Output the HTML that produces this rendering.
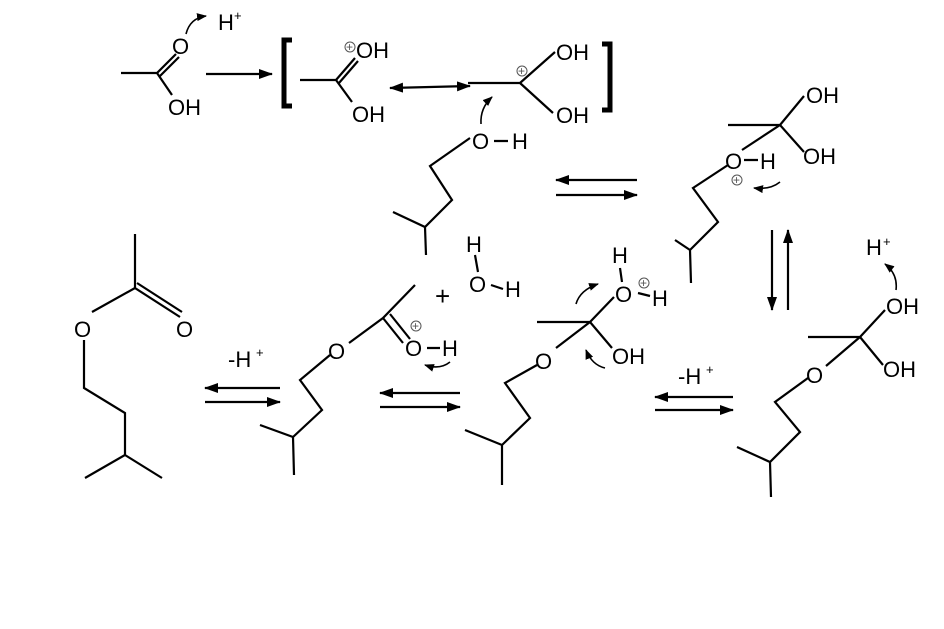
<!DOCTYPE html>
<html><head><style>
html,body{margin:0;padding:0;background:#fff;}
svg{display:block;}
text{font-family:"Liberation Sans",sans-serif;font-size:22px;fill:#000;}
.s{font-size:13px;}
.p{font-size:12px;fill:#555;}
</style></head><body>
<svg width="944" height="629" viewBox="0 0 944 629" xmlns="http://www.w3.org/2000/svg">
<defs>
<marker id="a" markerWidth="10" markerHeight="8" refX="9" refY="4" orient="auto" markerUnits="userSpaceOnUse"><path d="M0,0 L10,4 L0,8 z" fill="#000"/></marker>
<marker id="b" markerWidth="14" markerHeight="10" refX="13" refY="5" orient="auto-start-reverse" markerUnits="userSpaceOnUse"><path d="M0,0 L14,5 L0,10 z" fill="#000"/></marker>
</defs>
<g stroke="#000" stroke-width="2.2" fill="none">
<path d="M121,73 L157,73 L176,54 M160,76 L179,57 M157,73 L172,95"/>
<path d="M186,34 Q190,18 206,16" marker-end="url(#a)" stroke-width="1.6"/>
<path d="M206,74 L272,74" marker-end="url(#b)"/>
<path d="M292,40 L284,40 L284,106 L292,106" stroke-width="5"/>
<path d="M602,44 L610,44 L610,110 L602,110" stroke-width="5"/>
<path d="M300,80 L336,80 L355,58 M339,83 L358,61 M336,80 L352,102"/>
<path d="M390,88 L470,86" marker-end="url(#b)" marker-start="url(#b)"/>
<path d="M468,83 L520,83 L555,52 M520,83 L553,113"/>
<path d="M481,124 Q480,108 492,97" marker-end="url(#a)" stroke-width="1.6"/>
<path d="M470,138 L430,166 L452,200 L425,227 L393,212 M425,227 L426,255 M494,141 L508,141"/>
<path d="M637,180 L556,180" marker-end="url(#b)"/>
<path d="M556,195 L637,195" marker-end="url(#b)"/>
<path d="M728,125 L780,125 L804,96 M780,125 L804,152 M780,125 L742,150 M744,160 L758,160"/>
<path d="M728,165 L693,188 L718,222 L690,250 L675,240 M690,250 L691,283"/>
<path d="M780,182 Q770,190 754,188" marker-end="url(#a)" stroke-width="1.6"/>
<path d="M772,230 L772,310" marker-end="url(#b)"/>
<path d="M788,310 L788,230" marker-end="url(#b)"/>
<path d="M808,337 L860,337 L885,310 M860,337 L883,365 M860,337 L826,366"/>
<path d="M808,378 L775,402 L800,432 L770,462 L737,447 M770,462 L771,497"/>
<path d="M896,290 Q898,274 885,264" marker-end="url(#a)" stroke-width="1.6"/>
<path d="M733,397 L655,397" marker-end="url(#b)"/>
<path d="M655,410 L733,410" marker-end="url(#b)"/>
<path d="M135,234 L135,288 L180,317 M137,283 L182,312 M135,288 L92,312 M84,340 L84,388 L125,413 L125,455 L85,478 M125,455 L162,478"/>
<path d="M280,388 L205,388" marker-end="url(#b)"/>
<path d="M205,402 L280,402" marker-end="url(#b)"/>
<path d="M415,285 L383,318 L349,343 M383,318 L403,343 M390,314 L410,339 M427,348 L440,348"/>
<path d="M330,355 L300,380 L322,410 L293,437 L260,425 M293,437 L294,475"/>
<path d="M450,362 Q440,370 425,365" marker-end="url(#a)" stroke-width="1.6"/>
<path d="M460,393 L380,393" marker-end="url(#b)"/>
<path d="M380,407 L460,407" marker-end="url(#b)"/>
<path d="M475,255 L478,272 M491,285 L503,289"/>
<path d="M537,322 L590,322 L614,297 M590,322 L612,348 M590,322 L556,348 M620,268 L622,282 M638,293 L650,296"/>
<path d="M537,365 L505,383 L530,418 L502,445 L465,430 M502,445 L502,485"/>
<path d="M576,304 Q580,290 598,284" marker-end="url(#a)" stroke-width="1.6"/>
<path d="M605,368 Q592,365 586,350" marker-end="url(#a)" stroke-width="1.6"/>
</g>
<text x="172" y="54">O</text>
<text x="218" y="30">H</text><text x="234" y="20" class="s">+</text>
<text x="168" y="115">OH</text>
<text x="356" y="58">OH</text>
<circle cx="350" cy="47" r="5" fill="none" stroke="#555" stroke-width="1"/><text x="346" y="51" class="p">+</text>
<text x="352" y="122">OH</text>
<text x="556" y="60">OH</text>
<text x="556" y="123">OH</text>
<circle cx="522" cy="71" r="5" fill="none" stroke="#555" stroke-width="1"/><text x="518" y="75" class="p">+</text>
<text x="472" y="149">O</text><text x="512" y="149">H</text>
<text x="806" y="103">OH</text>
<text x="803" y="164">OH</text>
<text x="725" y="169">O</text><text x="760" y="169">H</text>
<circle cx="737" cy="180" r="5" fill="none" stroke="#555" stroke-width="1"/><text x="733" y="184" class="p">+</text>
<text x="866" y="255">H</text><text x="883" y="246" class="s">+</text>
<text x="886" y="314">OH</text>
<text x="883" y="377">OH</text>
<text x="806" y="383">O</text>
<text x="678" y="384">-H</text><text x="706" y="374" class="s">+</text>
<text x="74" y="337">O</text>
<text x="176" y="337">O</text>
<text x="228" y="367">-H</text><text x="256" y="357" class="s">+</text>
<text x="328" y="359">O</text>
<text x="405" y="356">O</text><text x="442" y="356">H</text>
<circle cx="416" cy="326" r="5" fill="none" stroke="#555" stroke-width="1"/><text x="412" y="330" class="p">+</text>
<text x="435" y="305" style="font-size:26px">+</text>
<text x="466" y="252">H</text>
<text x="469" y="292">O</text><text x="505" y="297">H</text>
<text x="612" y="263">H</text>
<text x="615" y="302">O</text><text x="652" y="306">H</text>
<circle cx="644" cy="283" r="5" fill="none" stroke="#555" stroke-width="1"/><text x="640" y="287" class="p">+</text>
<text x="612" y="364">OH</text>
<text x="535" y="369">O</text>
</svg>
</body></html>
